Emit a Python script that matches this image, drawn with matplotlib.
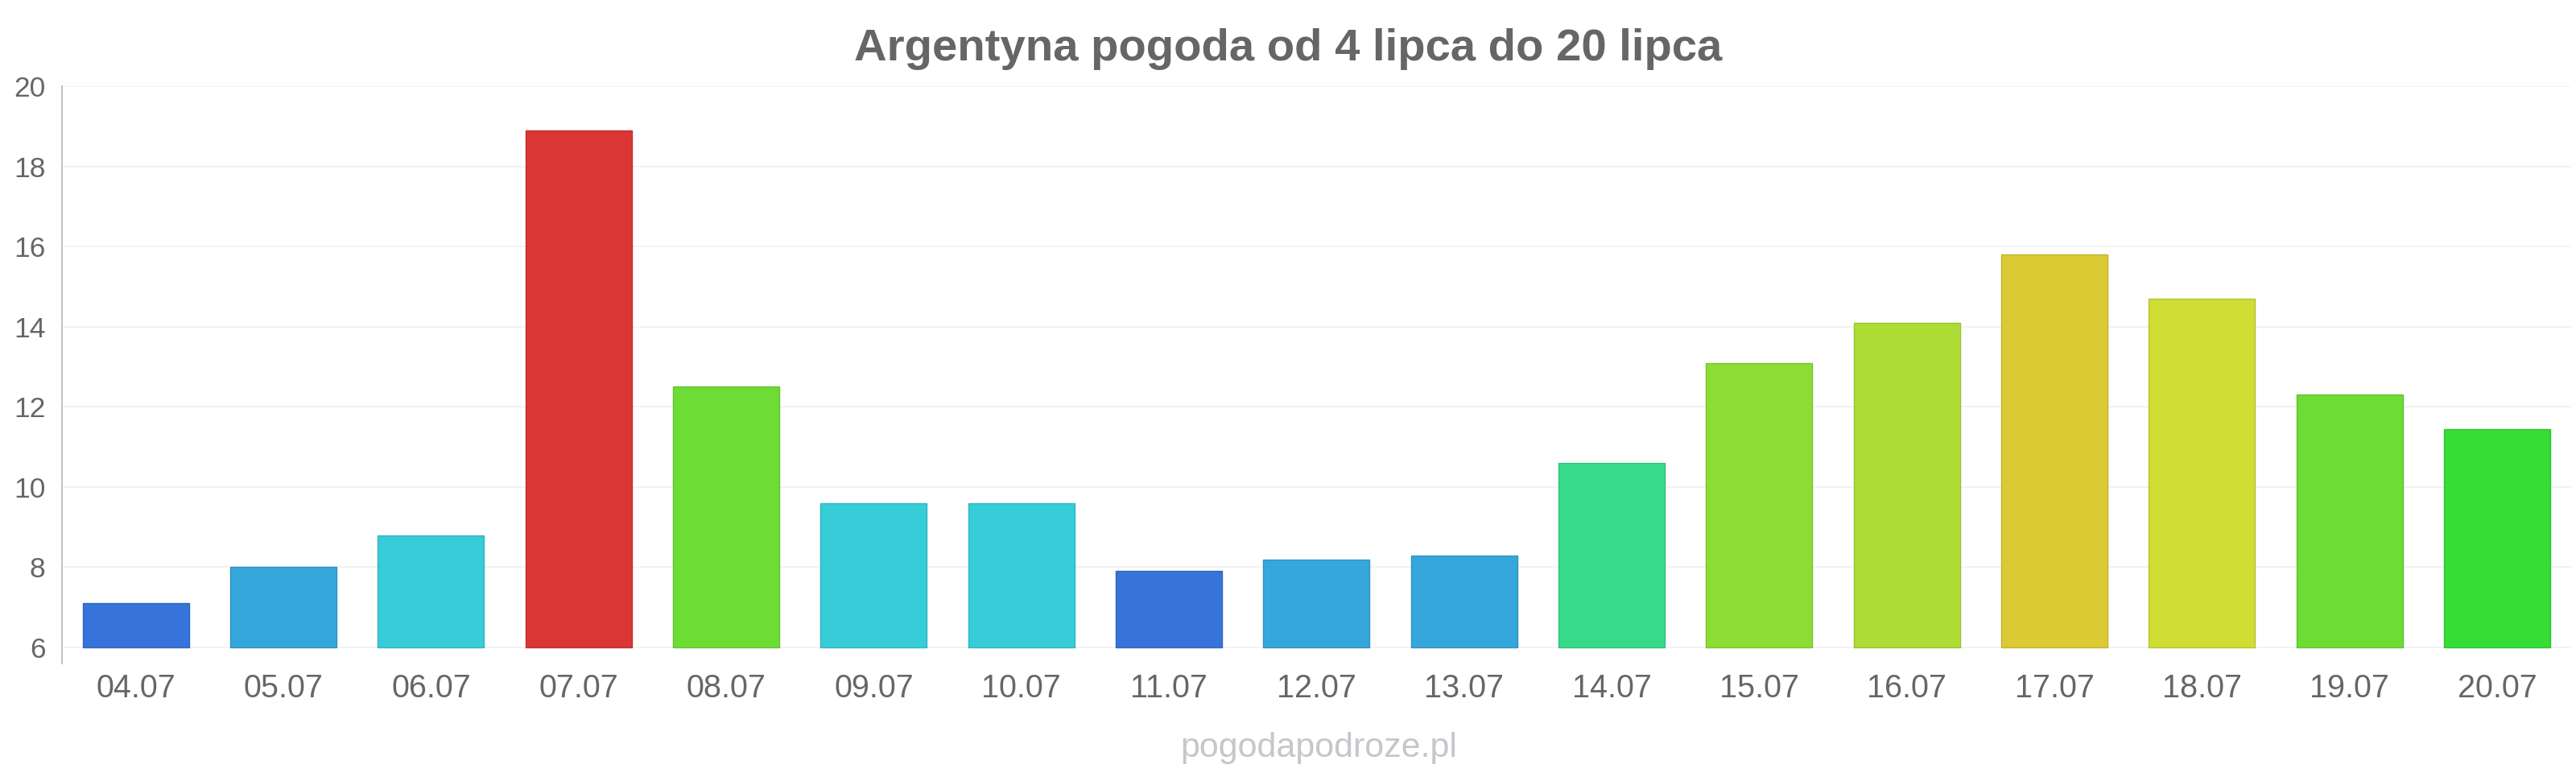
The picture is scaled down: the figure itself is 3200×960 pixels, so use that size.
import numpy as np
import matplotlib
matplotlib.use("Agg")
import matplotlib.pyplot as plt
from matplotlib.colors import to_rgb

plt.rcParams['font.family'] = ['Liberation Sans', 'DejaVu Sans']

# dane
days = ["04.07", "05.07", "06.07", "07.07", "08.07", "09.07", "10.07", "11.07", "12.07",
        "13.07", "14.07", "15.07", "16.07", "17.07", "18.07", "19.07", "20.07"]
temps = [7.1, 8.0, 8.8, 18.9, 12.5, 9.6, 9.6, 7.9, 8.2, 8.3, 10.6, 13.1, 14.1, 15.8, 14.7, 12.3, 11.45]
bar_colors = ["#3674d9", "#35a7db", "#36cdd9", "#dc3535", "#6ddd35", "#36cdd9", "#36cdd9",
              "#3674d9", "#35a7db", "#35a7db", "#36db8a", "#8cdd35", "#addd35", "#dcca35",
              "#cfdd35", "#6ddd35", "#35dd35"]
y_ticks = [6, 8, 10, 12, 14, 16, 18, 20]
title = "Argentyna pogoda od 4 lipca do 20 lipca"
watermark = "pogodapodroze.pl"

base = 6
txt = "#666666"

fig = plt.figure(figsize=(32, 9.6), dpi=100)
ax = fig.add_axes([0.0241, 0.1417, 0.998 - 0.0241, 0.8885 - 0.1417])

x = np.arange(len(days))
edges = [tuple(c * 0.88 for c in to_rgb(col)) for col in bar_colors]
ax.bar(x, np.array(temps) - base, bottom=base, width=0.72, color=bar_colors,
       edgecolor=edges, linewidth=1.0, zorder=3)

ax.set_xlim(-0.5, len(days) - 0.5)
ax.set_ylim(5.6, 20)
ax.set_yticks(y_ticks)
ax.set_yticklabels([str(t) for t in y_ticks])
ax.set_xticks(x)
ax.set_xticklabels(days)

for t in y_ticks:
    ax.axhline(t, color="#f0f0f0", linewidth=1.2, zorder=1)

for s in ["top", "right", "bottom"]:
    ax.spines[s].set_visible(False)
ax.spines["left"].set_color("#c4c4c4")
ax.spines["left"].set_linewidth(1.5)

ax.tick_params(axis="y", length=0, pad=15, labelsize=25.5, labelcolor=txt)
ax.tick_params(axis="x", length=0, pad=9, labelsize=28.5, labelcolor=txt)

fig.text(0.5, 1 - 75 / 960, title, ha="center", va="baseline", fontsize=40.5,
         fontweight="bold", color=txt)
fig.text(0.512, 1 - 929 / 960, watermark, ha="center", va="center", fontsize=31,
         color="#c6c6cb")

fig.savefig("out.png", dpi=100, facecolor="white")
